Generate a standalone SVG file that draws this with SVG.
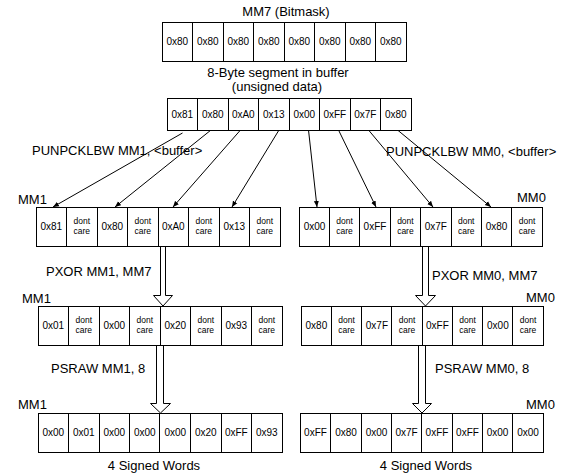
<svg xmlns="http://www.w3.org/2000/svg" width="574" height="476" viewBox="0 0 574 476">
<style>
.box{fill:#fff;stroke:#000;stroke-width:1}
.div{fill:none;stroke:#000;stroke-width:1}
.v{font-family:"Liberation Sans",Arial,sans-serif;font-size:10px;text-anchor:middle;fill:#000}
.dc{font-family:"Liberation Sans",Arial,sans-serif;font-size:8.5px;text-anchor:middle;fill:#000}
.lbl{font-family:"Liberation Sans",Arial,sans-serif;font-size:13px;fill:#000}
.mid{text-anchor:middle}
.conn{fill:none;stroke:#000;stroke-width:1}
.hollow{fill:#fff;stroke:#000;stroke-width:1}
</style>
<defs>
<marker id="ah" viewBox="0 0 6 6" markerWidth="6" markerHeight="6" refX="6" refY="3" orient="auto" markerUnits="userSpaceOnUse">
<path d="M0,0.5 L6,3 L0,5.5 z" fill="#000"/>
</marker>
</defs>
<rect width="574" height="476" fill="#fff"/>

<g id="labels">
<text class="lbl mid" x="286" y="16">MM7 (Bitmask)</text>
<text class="lbl mid" x="278" y="77">8-Byte segment in buffer</text>
<text class="lbl mid" x="277" y="91">(unsigned data)</text>
<text class="lbl" x="32" y="155">PUNPCKLBW MM1, &lt;buffer&gt;</text>
<text class="lbl" x="386" y="156">PUNPCKLBW MM0, &lt;buffer&gt;</text>
<text class="lbl" x="18" y="204">MM1</text>
<text class="lbl" x="517" y="202">MM0</text>
<text class="lbl" x="46" y="276">PXOR MM1, MM7</text>
<text class="lbl" x="432" y="280">PXOR MM0, MM7</text>
<text class="lbl" x="22" y="303">MM1</text>
<text class="lbl" x="526" y="302">MM0</text>
<text class="lbl" x="51" y="373">PSRAW MM1, 8</text>
<text class="lbl" x="435" y="373">PSRAW MM0, 8</text>
<text class="lbl" x="18" y="409">MM1</text>
<text class="lbl" x="526" y="409">MM0</text>
<text class="lbl mid" x="154" y="470">4 Signed Words</text>
<text class="lbl mid" x="426" y="470">4 Signed Words</text>
</g>

<g id="connectors">
<line class="conn" x1="182.5" y1="133" x2="53" y2="207" marker-end="url(#ah)"/>
<line class="conn" x1="211" y1="130" x2="115" y2="207" marker-end="url(#ah)"/>
<line class="conn" x1="240.5" y1="130" x2="173" y2="207" marker-end="url(#ah)"/>
<line class="conn" x1="279" y1="130" x2="232" y2="207" marker-end="url(#ah)"/>
<line class="conn" x1="308.5" y1="130" x2="317" y2="207" marker-end="url(#ah)"/>
<line class="conn" x1="338.5" y1="130" x2="376" y2="207" marker-end="url(#ah)"/>
<line class="conn" x1="368.5" y1="130" x2="433" y2="207" marker-end="url(#ah)"/>
<line class="conn" x1="397.5" y1="130" x2="491" y2="207" marker-end="url(#ah)"/>
<polyline class="hollow" points="160.5,246.5 160.5,295.5 153.5,295.5 163,306 172.5,295.5 165.5,295.5 165.5,246.5"/>
<polyline class="hollow" points="422.5,246.5 422.5,295.5 415.5,295.5 425.5,306 435.5,295.5 428.5,295.5 428.5,246.5"/>
<polyline class="hollow" points="156.5,345.5 156.5,403.5 150.5,403.5 160.5,413 170.5,403.5 163.5,403.5 163.5,345.5"/>
<polyline class="hollow" points="418.5,345.5 418.5,403.5 412.5,403.5 422,413 431.5,403.5 425.5,403.5 425.5,345.5"/>
</g>

<g id="mm7">
<rect class="box" x="162.5" y="22.5" width="244" height="39"/>
<path class="div" d="M192.5,22.5V61.5M223.5,22.5V61.5M253.5,22.5V61.5M284.5,22.5V61.5M314.5,22.5V61.5M345.5,22.5V61.5M375.5,22.5V61.5"/>
<text class="v" x="177.3" y="45">0x80</text><text class="v" x="207.8" y="45">0x80</text><text class="v" x="238.3" y="45">0x80</text><text class="v" x="268.8" y="45">0x80</text><text class="v" x="299.3" y="45">0x80</text><text class="v" x="329.8" y="45">0x80</text><text class="v" x="360.3" y="45">0x80</text><text class="v" x="390.8" y="45">0x80</text>
</g>

<g id="buffer">
<rect class="box" x="167.5" y="98.5" width="244" height="32"/>
<path class="div" d="M197.5,98.5V130.5M228.5,98.5V130.5M258.5,98.5V130.5M289.5,98.5V130.5M319.5,98.5V130.5M350.5,98.5V130.5M380.5,98.5V130.5"/>
<text class="v" x="182.3" y="118">0x81</text><text class="v" x="212.8" y="118">0x80</text><text class="v" x="243.3" y="118">0xA0</text><text class="v" x="273.8" y="118">0x13</text><text class="v" x="304.3" y="118">0x00</text><text class="v" x="334.8" y="118">0xFF</text><text class="v" x="365.3" y="118">0x7F</text><text class="v" x="395.8" y="118">0x80</text>
</g>

<g id="mm1-unpack">
<rect class="box" x="36.5" y="207.5" width="244" height="39"/>
<path class="div" d="M66.5,207.5V246.5M97.5,207.5V246.5M127.5,207.5V246.5M158.5,207.5V246.5M188.5,207.5V246.5M219.5,207.5V246.5M249.5,207.5V246.5"/>
<text class="v" x="51.3" y="230">0x81</text><text class="v" x="112.3" y="230">0x80</text><text class="v" x="173.3" y="230">0xA0</text><text class="v" x="234.3" y="230">0x13</text>
<text class="dc" x="81.8" y="224">dont</text><text class="dc" x="81.8" y="234">care</text>
<text class="dc" x="142.8" y="224">dont</text><text class="dc" x="142.8" y="234">care</text>
<text class="dc" x="203.8" y="224">dont</text><text class="dc" x="203.8" y="234">care</text>
<text class="dc" x="264.8" y="224">dont</text><text class="dc" x="264.8" y="234">care</text>
</g>

<g id="mm0-unpack">
<rect class="box" x="299.5" y="207.5" width="243" height="39"/>
<path class="div" d="M329.5,207.5V246.5M359.5,207.5V246.5M390.5,207.5V246.5M420.5,207.5V246.5M451.5,207.5V246.5M481.5,207.5V246.5M511.5,207.5V246.5"/>
<text class="v" x="314.5" y="230">0x00</text><text class="v" x="375" y="230">0xFF</text><text class="v" x="435.8" y="230">0x7F</text><text class="v" x="496.6" y="230">0x80</text>
<text class="dc" x="344.6" y="224">dont</text><text class="dc" x="344.6" y="234">care</text>
<text class="dc" x="405.4" y="224">dont</text><text class="dc" x="405.4" y="234">care</text>
<text class="dc" x="466.2" y="224">dont</text><text class="dc" x="466.2" y="234">care</text>
<text class="dc" x="527" y="224">dont</text><text class="dc" x="527" y="234">care</text>
</g>

<g id="mm1-pxor">
<rect class="box" x="38.5" y="306.5" width="244" height="39"/>
<path class="div" d="M68.5,306.5V345.5M99.5,306.5V345.5M129.5,306.5V345.5M160.5,306.5V345.5M190.5,306.5V345.5M221.5,306.5V345.5M251.5,306.5V345.5"/>
<text class="v" x="53.3" y="329">0x01</text><text class="v" x="114.3" y="329">0x00</text><text class="v" x="175.3" y="329">0x20</text><text class="v" x="236.3" y="329">0x93</text>
<text class="dc" x="83.8" y="323">dont</text><text class="dc" x="83.8" y="333">care</text>
<text class="dc" x="144.8" y="323">dont</text><text class="dc" x="144.8" y="333">care</text>
<text class="dc" x="205.8" y="323">dont</text><text class="dc" x="205.8" y="333">care</text>
<text class="dc" x="266.8" y="323">dont</text><text class="dc" x="266.8" y="333">care</text>
</g>

<g id="mm0-pxor">
<rect class="box" x="301.5" y="306.5" width="242" height="39"/>
<path class="div" d="M331.5,306.5V345.5M361.5,306.5V345.5M391.5,306.5V345.5M422.5,306.5V345.5M452.5,306.5V345.5M482.5,306.5V345.5M512.5,306.5V345.5"/>
<text class="v" x="316.4" y="329">0x80</text><text class="v" x="376.9" y="329">0x7F</text><text class="v" x="437.4" y="329">0xFF</text><text class="v" x="497.9" y="329">0x00</text>
<text class="dc" x="346.6" y="323">dont</text><text class="dc" x="346.6" y="333">care</text>
<text class="dc" x="407.1" y="323">dont</text><text class="dc" x="407.1" y="333">care</text>
<text class="dc" x="467.6" y="323">dont</text><text class="dc" x="467.6" y="333">care</text>
<text class="dc" x="528.1" y="323">dont</text><text class="dc" x="528.1" y="333">care</text>
</g>

<g id="mm1-psraw">
<rect class="box" x="38.5" y="413.5" width="244" height="39"/>
<path class="div" d="M68.5,413.5V452.5M99.5,413.5V452.5M129.5,413.5V452.5M159.5,413.5V452.5M190.5,413.5V452.5M221.5,413.5V452.5M251.5,413.5V452.5"/>
<text class="v" x="53.3" y="436">0x00</text><text class="v" x="83.8" y="436">0x01</text><text class="v" x="114.3" y="436">0x00</text><text class="v" x="144.8" y="436">0x00</text><text class="v" x="175.3" y="436">0x00</text><text class="v" x="205.8" y="436">0x20</text><text class="v" x="236.3" y="436">0xFF</text><text class="v" x="266.8" y="436">0x93</text>
</g>

<g id="mm0-psraw">
<rect class="box" x="300.5" y="413.5" width="243" height="39"/>
<path class="div" d="M330.5,413.5V452.5M361.5,413.5V452.5M391.5,413.5V452.5M421.5,413.5V452.5M452.5,413.5V452.5M482.5,413.5V452.5M512.5,413.5V452.5"/>
<text class="v" x="315.5" y="436">0xFF</text><text class="v" x="346" y="436">0x80</text><text class="v" x="376.5" y="436">0x00</text><text class="v" x="406.5" y="436">0x7F</text><text class="v" x="437" y="436">0xFF</text><text class="v" x="467.5" y="436">0xFF</text><text class="v" x="497.5" y="436">0x00</text><text class="v" x="528" y="436">0x00</text>
</g>
</svg>
